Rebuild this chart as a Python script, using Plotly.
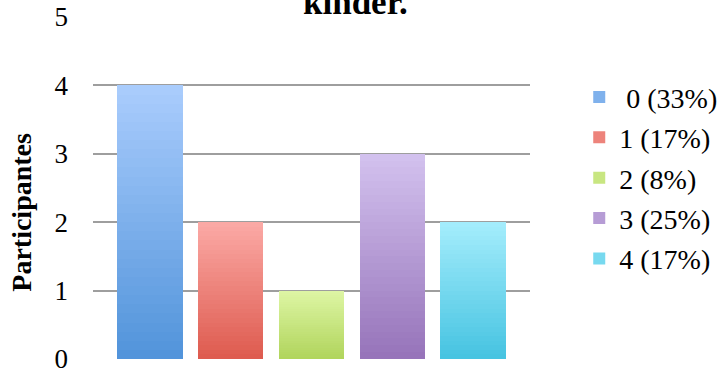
import plotly.graph_objects as go

# ---- data ----
categories = ["0", "1", "2", "3", "4"]
participants = [4, 2, 1, 3, 2]
legend_labels = [" 0 (33%)", "1 (17%)", "2 (8%)", "3 (25%)", "4 (17%)"]
title_text = "kinder."
y_title = "Participantes"

# gradient colours (top, bottom) per bar
top_colors = ["#aacdfd", "#fbaaa6", "#def6a5", "#d3c2ef", "#a5edfc"]
bottom_colors = ["#5193da", "#de5a4e", "#b0d45b", "#9673b9", "#45c3e1"]

SERIF = "Liberation Serif"
N = 30  # gradient steps


def hex2rgb(h):
    h = h.lstrip("#")
    return tuple(int(h[i:i + 2], 16) for i in (0, 2, 4))


def mix(c1, c2, t):
    a, b = hex2rgb(c1), hex2rgb(c2)
    return "rgb(%d,%d,%d)" % tuple(round(a[k] + (b[k] - a[k]) * t) for k in range(3))


fig = go.Figure()
for i, (cat, val) in enumerate(zip(categories, participants)):
    for s in range(N):
        t = (s + 0.5) / N  # 0 bottom -> 1 top
        fig.add_trace(go.Bar(
            x=[i], y=[val / N],
            marker=dict(color=mix(bottom_colors[i], top_colors[i], t), line=dict(width=0)),
            name=legend_labels[i],
            legendgroup=cat,
            showlegend=(s == N // 2),
            hoverinfo="skip",
        ))

fig.update_layout(
    width=720, height=376,
    margin=dict(l=93, r=190, t=17, b=17, autoexpand=False),
    paper_bgcolor="white", plot_bgcolor="white",
    barmode="stack", bargap=0.19,
    font=dict(family=SERIF, size=28, color="black"),
    showlegend=True,
    legend=dict(
        x=0.8045, xref="container", xanchor="left",
        y=0.808, yref="container", yanchor="top",
        font=dict(family=SERIF, size=28, color="black"),
        tracegroupgap=1, bgcolor="rgba(0,0,0,0)", maxheight=340,
    ),
    xaxis=dict(
        range=[-0.706, 4.706], showticklabels=False, showgrid=False,
        zeroline=False, showline=False, ticks="",
    ),
    yaxis=dict(
        range=[0, 5], dtick=1, showgrid=True, gridcolor="#9e9e9e", gridwidth=2,
        zeroline=False, showline=False, ticks="", ticklabelstandoff=24,
        tickfont=dict(family=SERIF, size=27, color="black"),
    ),
    annotations=[
        dict(text="<b>" + title_text + "</b>", xref="paper", x=0.6, yref="paper", y=0.979,
             xanchor="center", yanchor="bottom", showarrow=False,
             font=dict(family=SERIF, size=35, color="black")),
        dict(text="<b>" + y_title + "</b>", xref="paper", x=-0.163, yref="paper", y=0.43,
             xanchor="center", yanchor="middle", textangle=-90, showarrow=False,
             font=dict(family=SERIF, size=28, color="black")),
    ],
)

fig.write_html("out.html", config={"displayModeBar": False},
               post_script="document.body.style.margin='0';")
